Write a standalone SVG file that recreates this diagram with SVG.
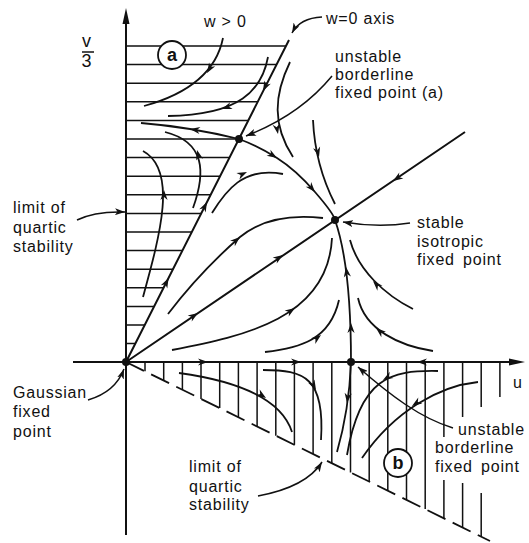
<svg xmlns="http://www.w3.org/2000/svg" width="529" height="543" viewBox="0 0 529 543">
<style>
.ax{stroke:#111;stroke-width:2;fill:none}
.ht{stroke:#111;stroke-width:1.5;fill:none}
.fl{stroke:#111;stroke-width:1.8;fill:none}
.la{stroke:#111;stroke-width:1.5;fill:none;marker-end:url(#m)}
.dash{stroke:#111;stroke-width:1.8;fill:none;stroke-dasharray:20 8}
text{font-family:"Liberation Sans",Arial,sans-serif;font-size:16px;fill:#111;letter-spacing:0.8px}
.big{font-size:18px}
.circ{font-weight:bold;font-size:18px;letter-spacing:0}
.dot{fill:#111}
</style>
<defs>
<marker id="m" viewBox="0 0 10 7" refX="10" refY="3.5" markerWidth="10" markerHeight="7" orient="auto" markerUnits="userSpaceOnUse"><path d="M0,0 L10,3.5 L0,7 L2.5,3.5 Z" fill="#111"/></marker>
<path id="ah" d="M0,0 L-10,-3.6 L-7,0 L-10,3.6 Z" fill="#111"/>
</defs>
<rect width="529" height="543" fill="#fff"/>

<g id="hatch-a" class="ht">
<path d="M126,46H286 M126,64.6H276.5 M126,83.2H267.1 M126,101.8H257.7 M126,120.4H248.3 M126,139H238.9 M126,157.6H229.5 M126,176.2H220.1 M126,194.8H210.6 M126,213.4H201.2 M126,232H191.8 M126,250.6H182.4 M126,269.2H173 M126,287.8H163.6 M126,306.4H154.1 M126,325H144.7 M126,343.6H135.3"/>
</g>
<g id="hatch-b" class="ht">
<path d="M145,362V371.3 M163.7,362V380.5 M182.4,362V389.7 M201,362V398.9 M219.7,362V408.1 M238.4,362V417.3 M257.1,362V426.5 M275.8,362V435.7 M294.4,362V444.8 M313.1,362V454 M331.8,362V463.2 M350.5,362V472.4 M369.2,362V481.6 M387.8,362V490.7 M406.5,362V499.9 M425.2,362V509.1 M443.9,362V437 M443.9,480V518.3 M462.6,362V417 M462.6,483V527.5 M481.2,362V407 M481.2,493V536.7 M499.9,362V397"/>
<path class="dash" d="M126,362L490,541"/>
</g>

<g id="axes">
<path class="ax" d="M126,535V20 M73,362H512"/>
<path d="M126,8 L129.5,24 L122.5,24 Z M525,362 L509,358.5 L509,365.5 Z" fill="#111"/>
<path class="ax" d="M126,362L289,40 M126,362L465,132"/>
</g>

<g id="connectors">
<path class="fl" d="M239,139 Q190,127 141,123"/>
<path class="fl" d="M239,139 Q258,146 277,158 T315,192 T335,220"/>
<path class="fl" d="M290,62 C274,95 272,125 293,157"/>
<path class="fl" d="M313,120 Q315,165 335,204"/>
<path class="fl" d="M223,38 C217,68 195,92 144,106"/>
<path class="fl" d="M268,57 C262,90 240,115 168,116"/>
<path class="fl" d="M193,208 C206,172 205,142 165,132"/>
<path class="fl" d="M143,297 C160,235 178,170 143,151"/>
<path class="fl" d="M212,213 C225,192 243,166 283,174"/>
<path class="fl" d="M168,314 Q200,272 240,237 Q270,212 323,218"/>
<path class="fl" d="M172,350 C245,336 328,318 332,238"/>
<path class="fl" d="M265,352 C300,348 330,340 339,300"/>
<path class="fl" d="M351,362 C351,320 349,260 335,220"/>
<path class="fl" d="M413,309 C385,295 358,270 350,240"/>
<path class="fl" d="M433,351 C400,346 365,330 358,298"/>
<path class="fl" d="M179,373 C230,380 280,395 292,432"/>
<path class="fl" d="M263,370 C305,370 325,378 321,440"/>
<path class="fl" d="M351,363 Q349,410 337,452"/>
<path class="fl" d="M438,371 C390,370 360,378 347,455"/>
<path class="fl" d="M478,382 C440,386 395,410 362,458"/>

<use href="#ah" transform="translate(190 129) rotate(189)"/>
<use href="#ah" transform="translate(277 158) rotate(32)"/>
<use href="#ah" transform="translate(315 192) rotate(49)"/>
<use href="#ah" transform="translate(278 134) rotate(79)"/>
<use href="#ah" transform="translate(319 157) rotate(76)"/>
<use href="#ah" transform="translate(207 73) rotate(121)"/>
<use href="#ah" transform="translate(222 109) rotate(160)"/>
<use href="#ah" transform="translate(263 91) rotate(117)"/>
<use href="#ah" transform="translate(207 202) rotate(-63)"/>
<use href="#ah" transform="translate(168.6 278) rotate(-63)"/>
<use href="#ah" transform="translate(197 150) rotate(-105)"/>
<use href="#ah" transform="translate(164 190) rotate(-90)"/>
<use href="#ah" transform="translate(247 172) rotate(-25)"/>
<use href="#ah" transform="translate(240 237) rotate(-41)"/>
<use href="#ah" transform="translate(198 313) rotate(-34)"/>
<use href="#ah" transform="translate(283 255) rotate(-34)"/>
<use href="#ah" transform="translate(393 181) rotate(146)"/>
<use href="#ah" transform="translate(295 308) rotate(-34)"/>
<use href="#ah" transform="translate(321 335) rotate(-38)"/>
<use href="#ah" transform="translate(351 323) rotate(-90)"/>
<use href="#ah" transform="translate(346 267) rotate(-98)"/>
<use href="#ah" transform="translate(373 281) rotate(-134)"/>
<use href="#ah" transform="translate(376 328) rotate(-140)"/>
<use href="#ah" transform="translate(208 362) rotate(0)"/>
<use href="#ah" transform="translate(301 362) rotate(0)"/>
<use href="#ah" transform="translate(417 362) rotate(180)"/>
<use href="#ah" transform="translate(266 398) rotate(34)"/>
<use href="#ah" transform="translate(316 390) rotate(62)"/>
<use href="#ah" transform="translate(347 403) rotate(97)"/>
<use href="#ah" transform="translate(383 380) rotate(149)"/>
<use href="#ah" transform="translate(412 406) rotate(146)"/>

<path class="la" d="M322,17 Q300,18 292,33"/>
<path class="la" d="M332,76 Q300,115 246,136"/>
<path class="la" d="M77,220 Q95,211 125,212"/>
<path class="la" d="M410,223 Q378,228 343,222"/>
<path class="la" d="M88,400 C105,395 118,385 124,369"/>
<path class="la" d="M258,496 C290,490 312,478 322,462"/>
<path class="la" d="M453,428 C420,418 390,395 358,367"/>
</g>

<g id="node-gaussian">
<circle class="dot" cx="126" cy="362" r="4"/>
<text x="13" y="398">Gaussian</text>
<text x="13" y="417">fixed</text>
<text x="13" y="437">point</text>
</g>
<g id="node-borderline-a">
<circle class="dot" cx="239" cy="139" r="4"/>
<text x="335" y="62">unstable</text>
<text x="335" y="80">borderline</text>
<text x="335" y="98">fixed point (a)</text>
</g>
<g id="node-isotropic">
<circle class="dot" cx="335" cy="220" r="4"/>
<text x="417" y="228">stable</text>
<text x="417" y="247">isotropic</text>
<text x="417" y="265" style="word-spacing:3px">fixed point</text>
</g>
<g id="node-borderline-b">
<circle class="dot" cx="351" cy="362" r="4"/>
<text x="458" y="435">unstable</text>
<text x="435" y="453">borderline</text>
<text x="435" y="472" style="word-spacing:3px">fixed point</text>
</g>
<g id="region-a">
<circle cx="172" cy="55" r="14" fill="#fff" stroke="#111" stroke-width="1.8"/>
<text class="circ" x="172" y="61" text-anchor="middle">a</text>
</g>
<g id="region-b">
<circle cx="398" cy="463" r="14" fill="#fff" stroke="#111" stroke-width="1.8"/>
<text class="circ" x="398" y="469" text-anchor="middle">b</text>
</g>
<g id="labels">
<text x="204" y="27">w &gt; 0</text>
<text x="326" y="24">w=0 axis</text>
<text x="13" y="213">limit of</text>
<text x="13" y="233">quartic</text>
<text x="13" y="252">stability</text>
<text x="189" y="472">limit of</text>
<text x="189" y="492">quartic</text>
<text x="189" y="510">stability</text>
<text x="513" y="388">u</text>
<text class="big" x="87" y="47" text-anchor="middle">v</text>
<path d="M82,52H94" stroke="#111" stroke-width="1.5"/>
<text class="big" x="87" y="67" text-anchor="middle">3</text>
</g>
</svg>
